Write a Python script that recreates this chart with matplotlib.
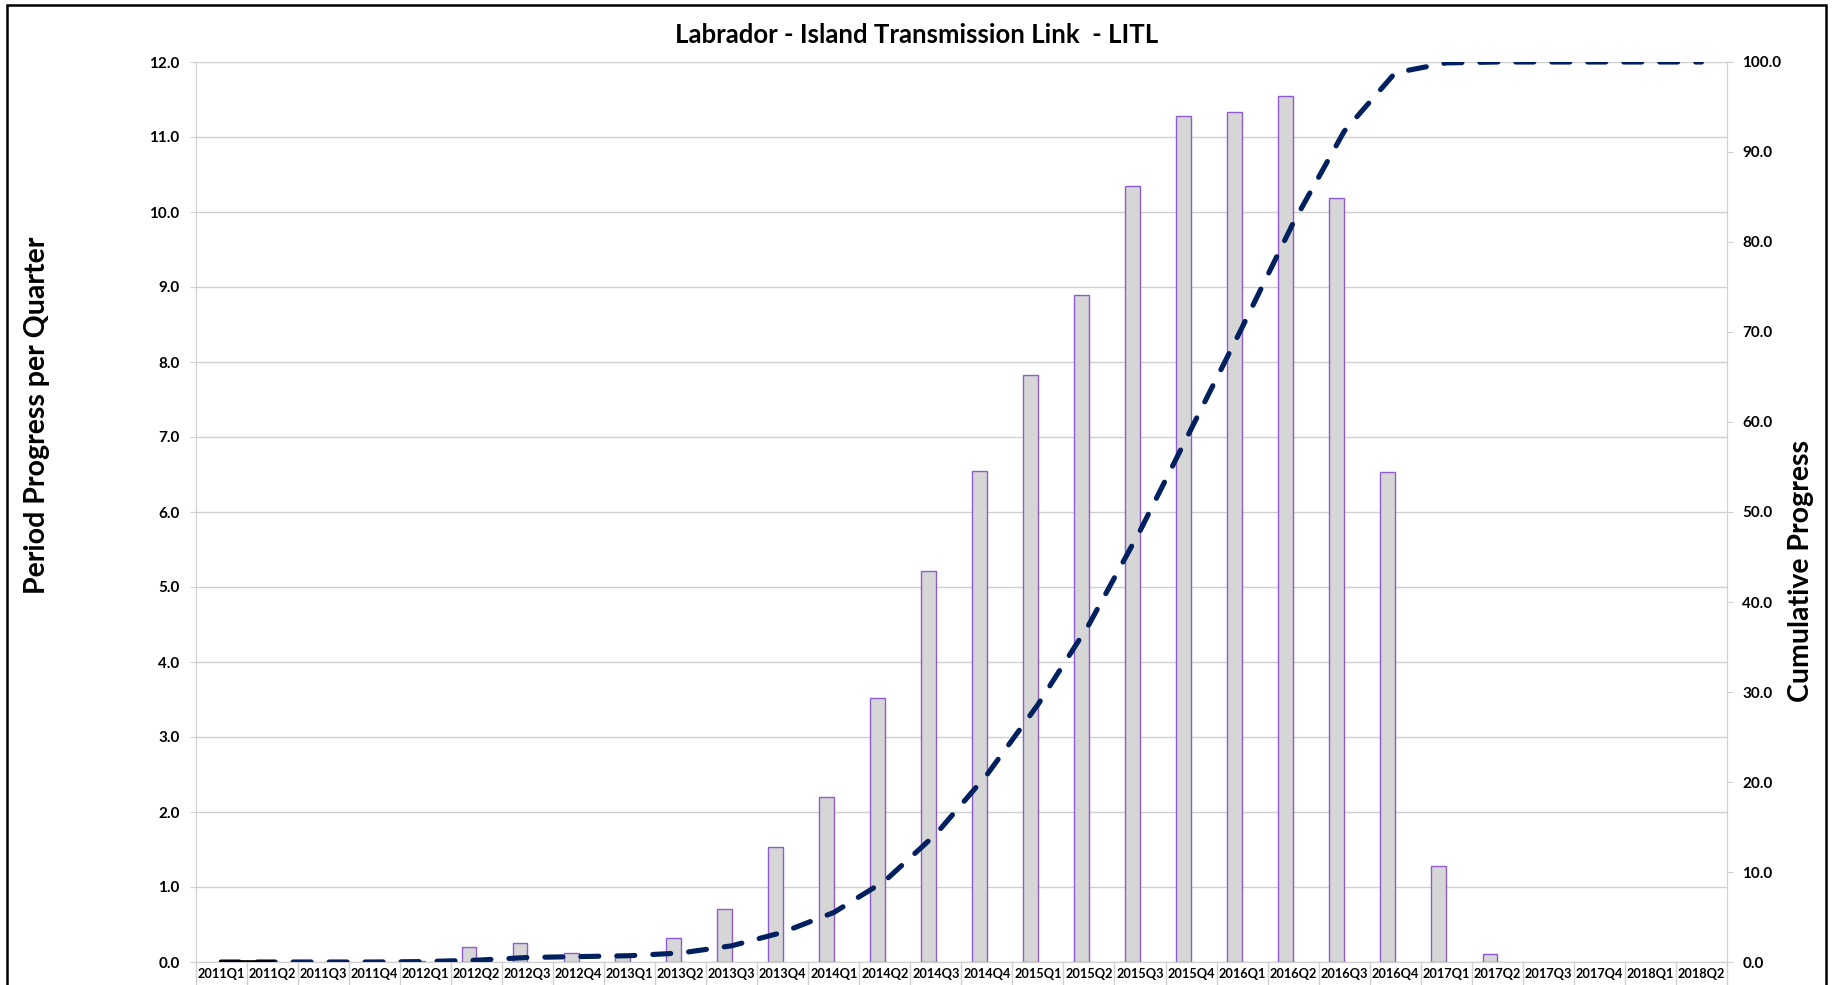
import numpy as np
import matplotlib
matplotlib.use("Agg")
import matplotlib.pyplot as plt
from matplotlib.patches import Rectangle
from matplotlib.ticker import FormatStrFormatter

plt.rcParams["font.family"] = ["Lato", "DejaVu Sans"]
plt.rcParams["font.weight"] = "bold"

quarters = [
    "2011Q1", "2011Q2", "2011Q3", "2011Q4",
    "2012Q1", "2012Q2", "2012Q3", "2012Q4",
    "2013Q1", "2013Q2", "2013Q3", "2013Q4",
    "2014Q1", "2014Q2", "2014Q3", "2014Q4",
    "2015Q1", "2015Q2", "2015Q3", "2015Q4",
    "2016Q1", "2016Q2", "2016Q3", "2016Q4",
    "2017Q1", "2017Q2", "2017Q3", "2017Q4",
    "2018Q1", "2018Q2",
]
# period progress per quarter (left axis)
period_progress = [
    0.0, 0.0, 0.0, 0.0,
    0.02, 0.20, 0.26, 0.12,
    0.10, 0.32, 0.71, 1.54,
    2.20, 3.52, 5.21, 6.55,
    7.83, 8.89, 10.35, 11.28,
    11.33, 11.55, 10.19, 6.54,
    1.28, 0.11, 0.0, 0.0,
    0.0, 0.0,
]
# cumulative progress (right axis)
cumulative_progress = [
    0.0, 0.0, 0.0, 0.0,
    0.05, 0.2, 0.5, 0.6,
    0.7, 1.0, 1.8, 3.3,
    5.5, 9.0, 14.2, 20.8,
    28.6, 37.5, 47.9, 59.2,
    70.5, 82.1, 92.3, 98.8,
    99.9, 100.0, 100.0, 100.0,
    100.0, 100.0,
]

W, H = 1833, 985
GRID = "#d0d0d0"

fig = plt.figure(figsize=(W / 100, H / 100), dpi=100)
ax = fig.add_axes([195.7 / W, 23 / H, (1727 - 195.7) / W, 900 / H])

x = np.arange(len(quarters))
vals = np.array(period_progress)
keep = vals > 0
bw = 0.29
ax.bar(x[keep] - bw / 2, vals[keep], width=bw, color="#d6d6d6",
       edgecolor="#8e5ccc", linewidth=1.0, zorder=2)

ax.set_xlim(-0.5, len(quarters) - 0.5)
ax.set_ylim(0, 12)
ax.set_yticks(np.arange(0, 12.1, 1))
ax.yaxis.set_major_formatter(FormatStrFormatter("%.1f"))
ax.grid(axis="y", color=GRID, linewidth=1.0, zorder=0)
ax.set_axisbelow(True)

# category separators as major ticks, labels on minor ticks
ax.set_xticks(np.arange(-0.5, len(quarters)))
ax.set_xticklabels([])
ax.set_xticks(x, minor=True)
ax.set_xticklabels(quarters, minor=True)
ax.tick_params(axis="x", which="major", length=22, color=GRID, width=1.0)
ax.tick_params(axis="x", which="minor", length=0, pad=4, labelsize=9.2)
ax.tick_params(axis="y", length=4, color=GRID, pad=7.5, labelsize=11)

for side in ["left", "bottom", "right"]:
    ax.spines[side].set_color(GRID)
ax.spines["top"].set_visible(False)

ax2 = ax.twinx()
ax2.plot(x, cumulative_progress, color="#002060", linewidth=3.7,
         dashes=(3.5, 3.5), dash_capstyle="round", zorder=3)
ax2.plot(x[:2], cumulative_progress[:2], color="black", linewidth=3.4, zorder=4)
ax2.set_ylim(0, 100)
ax2.set_yticks(np.arange(0, 100.1, 10))
ax2.yaxis.set_major_formatter(FormatStrFormatter("%.1f"))
ax2.tick_params(axis="y", length=4, color=GRID, pad=7, labelsize=11)
for side in ["left", "bottom", "right"]:
    ax2.spines[side].set_color(GRID)
ax2.spines["top"].set_visible(False)

fig.text(0.5, 1 - 35 / H, "Labrador - Island Transmission Link  - LITL",
         ha="center", va="center", fontsize=18.5, fontweight="bold")
fig.text(37 / W, 1 - 415 / H, "Period Progress per Quarter", rotation=90,
         ha="center", va="center", fontsize=20.5, fontweight="bold")
fig.text(1801 / W, 1 - 571 / H, "Cumulative Progress", rotation=90,
         ha="center", va="center", fontsize=20.5, fontweight="bold")

# outer frame
fig.patches.append(Rectangle((7 / W, -0.02), (1826 - 7) / W, 1 - 5 / H + 0.02,
                             transform=fig.transFigure, fill=False,
                             edgecolor="black", linewidth=1.8))

fig.savefig("out.png", dpi=100)
